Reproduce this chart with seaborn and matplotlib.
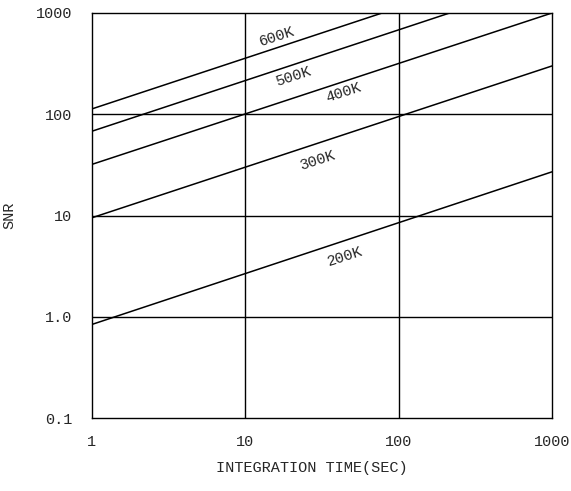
import numpy as np
import pandas as pd
import matplotlib
matplotlib.use("Agg")
import matplotlib.pyplot as plt
import seaborn as sns

# Data (endpoints of each straight log-log line)
temps = ["600K", "500K", "400K", "300K", "200K"]
t_600 = [1, 78];   snr_600 = [113, 1000]
t_500 = [1, 215];  snr_500 = [68, 1000]
t_400 = [1, 1000]; snr_400 = [32, 1000]
t_300 = [1, 1000]; snr_300 = [9.5, 300]
t_200 = [1, 1000]; snr_200 = [0.84, 27]
label_x = [16.1, 20.5, 43.4, 29.4, 44.7]
label_y = [580, 238, 162, 35.2, 3.9]
x_ticks = [1, 10, 100, 1000]
x_ticklabels = ["1", "10", "100", "1000"]
y_ticks = [0.1, 1, 10, 100, 1000]
y_ticklabels = ["0.1", "1.0", "10", "100", "1000"]

rows = []
for name, ts, ss in zip(temps, [t_600, t_500, t_400, t_300, t_200],
                        [snr_600, snr_500, snr_400, snr_300, snr_200]):
    for t, s in zip(ts, ss):
        rows.append({"t": t, "snr": s, "temp": name})
df = pd.DataFrame(rows)

sns.set_style("white")
plt.rcParams["font.family"] = ["Liberation Mono", "DejaVu Sans Mono"]

fig = plt.figure(figsize=(5.71, 4.91), dpi=100)
ax = fig.add_axes([92/571, 1-418/491, (552-92)/571, (418-13)/491])

sns.lineplot(data=df, x="t", y="snr", hue="temp", units="temp", estimator=None,
             palette=["black"]*5, legend=False, linewidth=1.1, ax=ax)

ax.set_xscale("log")
ax.set_yscale("log")
ax.set_xlim(1, 1000)
ax.set_ylim(0.1, 1000)

ax.set_xticks(x_ticks)
ax.set_xticklabels(x_ticklabels, fontsize=11)
ax.set_yticks(y_ticks)
ax.set_yticklabels(y_ticklabels, fontsize=11)
ax.minorticks_off()
ax.tick_params(axis="both", length=0)
ax.tick_params(axis="x", pad=12)
ax.tick_params(axis="y", pad=14)

for v in x_ticks[1:-1]:
    ax.axvline(v, color="black", linewidth=1.0, zorder=1)
for v in y_ticks[1:-1]:
    ax.axhline(v, color="black", linewidth=1.0, zorder=1)
for sp in ax.spines.values():
    sp.set_color("black")
    sp.set_linewidth(1.0)

for name, lx, ly in zip(temps, label_x, label_y):
    ax.text(lx, ly, name, fontsize=11, rotation=18, ha="center", va="center")

ax.set_xlabel("INTEGRATION TIME(SEC)", fontsize=11)
ax.set_ylabel("SNR", fontsize=11)
ax.xaxis.set_label_coords((312-92)/460, -(461-418)/405)
ax.yaxis.set_label_coords(-(92-16)/460, 0.5)

fig.savefig("out.png", dpi=100)
